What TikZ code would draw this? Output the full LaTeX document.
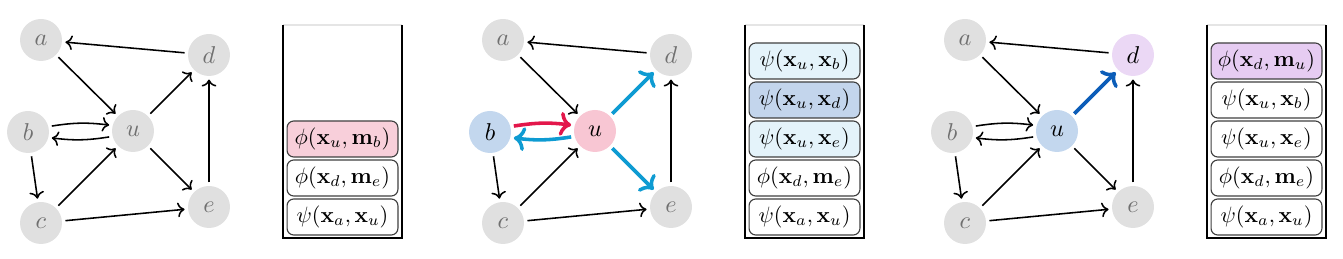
\documentclass[tikz,border=0pt]{standalone}
\usepackage{amsmath}
\usetikzlibrary{arrows.meta}
\definecolor{ngray}{HTML}{E0E0E0}
\definecolor{labgray}{HTML}{707070}
\definecolor{nblue}{HTML}{C3D7EE}
\definecolor{npink}{HTML}{F8C6D3}
\definecolor{nlav}{HTML}{EBD8F5}
\definecolor{ared}{HTML}{E3174B}
\definecolor{acyan}{HTML}{0E9BD2}
\definecolor{adblue}{HTML}{0C5DB8}
\definecolor{spink}{HTML}{F8CFDA}
\definecolor{scyan}{HTML}{E4F3FA}
\definecolor{sblue}{HTML}{C3D5EC}
\definecolor{slav}{HTML}{E6CCF2}
\begin{document}
\begin{tikzpicture}[x=0.45pt,y=-0.45pt,
  vtx/.style={circle,fill=ngray,minimum size=18.9pt,inner sep=0pt,outer sep=1.6pt,text=labgray,font=\fontsize{10.5}{12}\selectfont},
  hl/.style={text=black},
  edge/.style={->,line width=0.7pt,black},
  hot/.style={->,line width=1.6pt},
  item/.style={draw=black!75,line width=0.5pt,rounded corners=3pt,minimum width=49.9pt,minimum height=16.2pt,inner sep=0pt},
  stackside/.style={line width=1pt,black},
  stacktop/.style={line width=0.6pt,black!10}]
\useasboundingbox (0,0) rectangle (1343,259);

% ---------- Panel 1 ----------
\begin{scope}
\node[vtx] (a1) at (41,40) {$a$};
\node[vtx] (d1) at (209,55) {$d$};
\node[vtx] (b1) at (28,132) {$b$};
\node[vtx] (u1) at (133,131) {$u$};
\node[vtx] (c1) at (41,223) {$c$};
\node[vtx] (e1) at (209,207) {$e$};
\draw[edge] (d1) -- (a1);
\draw[edge] (a1) -- (u1);
\draw[edge] (u1) -- (d1);
\draw[edge] (u1) -- (e1);
\draw[edge] (e1) -- (d1);
\draw[edge] (c1) -- (u1);
\draw[edge] (c1) -- (e1);
\draw[edge] (b1) -- (c1);
\draw[edge] (b1.14) to[bend left=8] (u1.166);
\draw[edge] (u1.194) to[bend left=8] (b1.346);
\draw[stacktop] (283,25) -- (402,25);
\draw[stackside] (283,25) -- (283,238) -- (402,238) -- (402,25);
\node[item,fill=spink] (p1i3) at (342.5,139) {$\phi(\mathbf{x}_u,\mathbf{m}_b)$};
\node[item,fill=white] (p1i4) at (342.5,178) {$\phi(\mathbf{x}_d,\mathbf{m}_e)$};
\node[item,fill=white] (p1i5) at (342.5,217) {$\psi(\mathbf{x}_a,\mathbf{x}_u)$};
\end{scope}

% ---------- Panel 2 ----------
\begin{scope}[shift={(462,0)}]
\node[vtx] (a2) at (41,40) {$a$};
\node[vtx] (d2) at (209,55) {$d$};
\node[vtx,hl,fill=nblue] (b2) at (28,132) {$b$};
\node[vtx,hl,fill=npink] (u2) at (133,131) {$u$};
\node[vtx] (c2) at (41,223) {$c$};
\node[vtx] (e2) at (209,207) {$e$};
\draw[edge] (d2) -- (a2);
\draw[edge] (a2) -- (u2);
\draw[hot,acyan] (u2) -- (d2);
\draw[hot,acyan] (u2) -- (e2);
\draw[edge] (e2) -- (d2);
\draw[edge] (c2) -- (u2);
\draw[edge] (c2) -- (e2);
\draw[edge] (b2) -- (c2);
\draw[hot,ared] (b2.14) to[bend left=8] (u2.166);
\draw[hot,acyan] (u2.194) to[bend left=8] (b2.346);
\draw[stacktop] (283,25) -- (402,25);
\draw[stackside] (283,25) -- (283,238) -- (402,238) -- (402,25);
\node[item,fill=scyan] (p2i1) at (342.5,61) {$\psi(\mathbf{x}_u,\mathbf{x}_b)$};
\node[item,fill=sblue] (p2i2) at (342.5,100) {$\psi(\mathbf{x}_u,\mathbf{x}_d)$};
\node[item,fill=scyan] (p2i3) at (342.5,139) {$\psi(\mathbf{x}_u,\mathbf{x}_e)$};
\node[item,fill=white] (p2i4) at (342.5,178) {$\phi(\mathbf{x}_d,\mathbf{m}_e)$};
\node[item,fill=white] (p2i5) at (342.5,217) {$\psi(\mathbf{x}_a,\mathbf{x}_u)$};
\end{scope}

% ---------- Panel 3 ----------
\begin{scope}[shift={(924,0)}]
\node[vtx] (a3) at (41,40) {$a$};
\node[vtx,hl,fill=nlav] (d3) at (209,55) {$d$};
\node[vtx] (b3) at (28,132) {$b$};
\node[vtx,hl,fill=nblue] (u3) at (133,131) {$u$};
\node[vtx] (c3) at (41,223) {$c$};
\node[vtx] (e3) at (209,207) {$e$};
\draw[edge] (d3) -- (a3);
\draw[edge] (a3) -- (u3);
\draw[hot,adblue] (u3) -- (d3);
\draw[edge] (u3) -- (e3);
\draw[edge] (e3) -- (d3);
\draw[edge] (c3) -- (u3);
\draw[edge] (c3) -- (e3);
\draw[edge] (b3) -- (c3);
\draw[edge] (b3.14) to[bend left=8] (u3.166);
\draw[edge] (u3.194) to[bend left=8] (b3.346);
\draw[stacktop] (283,25) -- (402,25);
\draw[stackside] (283,25) -- (283,238) -- (402,238) -- (402,25);
\node[item,fill=slav] (p3i1) at (342.5,61) {$\phi(\mathbf{x}_d,\mathbf{m}_u)$};
\node[item,fill=white] (p3i2) at (342.5,100) {$\psi(\mathbf{x}_u,\mathbf{x}_b)$};
\node[item,fill=white] (p3i3) at (342.5,139) {$\psi(\mathbf{x}_u,\mathbf{x}_e)$};
\node[item,fill=white] (p3i4) at (342.5,178) {$\phi(\mathbf{x}_d,\mathbf{m}_e)$};
\node[item,fill=white] (p3i5) at (342.5,217) {$\psi(\mathbf{x}_a,\mathbf{x}_u)$};
\end{scope}
\end{tikzpicture}
\end{document}
